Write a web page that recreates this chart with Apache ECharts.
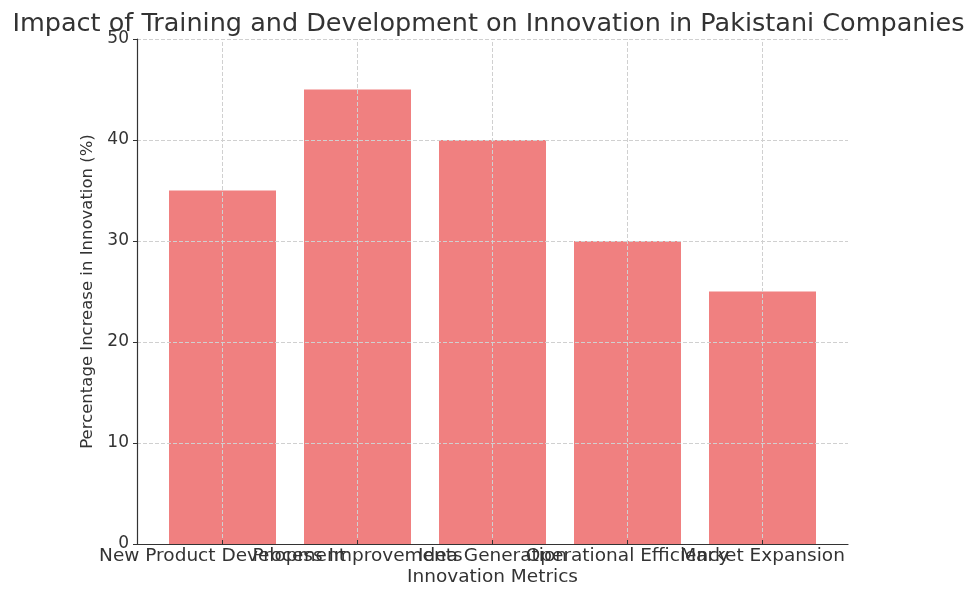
<!DOCTYPE html>
<html>
<head>
<meta charset="utf-8">
<script src="https://cdn.jsdelivr.net/npm/echarts@6/dist/echarts.min.js"></script>
<style>html,body{margin:0;padding:0;background:#fff;}#c{width:977px;height:589px;}</style>
</head>
<body>
<div id="c"></div>
<script>
const categories = ["New Product Development", "Process Improvements", "Idea Generation", "Operational Efficiency", "Market Expansion"];
const values = [35, 45, 40, 30, 25];
const yTicks = { min: 0, max: 50, interval: 10 };
const titleText = "Impact of Training and Development on Innovation in Pakistani Companies";
const xName = "Innovation Metrics";
const yName = "Percentage Increase in Innovation (%)";

const FONT = "DejaVu Sans";
const TXT = '#333333';
const chart = echarts.init(document.getElementById('c'), null, { renderer: 'canvas' });
chart.setOption({
  animation: false,
  backgroundColor: '#ffffff',
  title: {
    text: titleText, left: 'center', top: 6,
    textStyle: { fontFamily: FONT, fontSize: 25.5, fontWeight: 'normal', color: TXT }
  },
  grid: [
    { left: 137, right: 129, top: 39, bottom: 45, outerBoundsMode: 'none', containLabel: false },
    { left: 155, right: 147, top: 39, bottom: 45, outerBoundsMode: 'none', containLabel: false }
  ],
  xAxis: [
    {
      type: 'value', gridIndex: 0, min: 0, max: 1, z: 12,
      axisLine: { show: true, onZero: false, lineStyle: { color: TXT, width: 1.2 } },
      axisTick: { show: false }, axisLabel: { show: false }, splitLine: { show: false },
      name: xName, nameLocation: 'middle', nameGap: 24,
      nameTextStyle: { fontFamily: FONT, fontSize: 18.5, color: TXT }
    },
    {
      type: 'category', gridIndex: 1, data: categories, z: 12,
      axisLine: { show: false },
      axisTick: { show: true, alignWithLabel: true, inside: true, length: 4, lineStyle: { color: TXT } },
      axisLabel: { interval: 0, fontFamily: FONT, fontSize: 18.5, color: TXT, margin: 3, hideOverlap: false },
      splitLine: { show: false }
    }
  ],
  yAxis: [
    {
      type: 'value', gridIndex: 0, min: yTicks.min, max: yTicks.max, interval: yTicks.interval, z: 10,
      axisLine: { show: true, lineStyle: { color: TXT, width: 1.2 } },
      axisTick: { show: true, length: 4, lineStyle: { color: TXT } },
      axisLabel: { fontFamily: FONT, fontSize: 17, color: TXT, margin: 8 },
      splitLine: { show: true, lineStyle: { color: '#d0d0d0', type: [4, 2], width: 1 } },
      name: yName, nameLocation: 'middle', nameGap: 40, nameRotate: 90,
      nameTextStyle: { fontFamily: FONT, fontSize: 16.5, color: TXT }
    },
    {
      type: 'value', gridIndex: 1, min: yTicks.min, max: yTicks.max, show: false
    }
  ],
  series: [{
    type: 'bar', xAxisIndex: 1, yAxisIndex: 1,
    data: values, barWidth: 107,
    itemStyle: { color: '#F08080' },
    markLine: {
      silent: true, symbol: 'none', label: { show: false },
      lineStyle: { color: '#d0d0d0', type: [4, 2], width: 1 },
      data: categories.map((c, i) => ({ xAxis: i }))
    }
  }]
});
</script>
</body>
</html>
